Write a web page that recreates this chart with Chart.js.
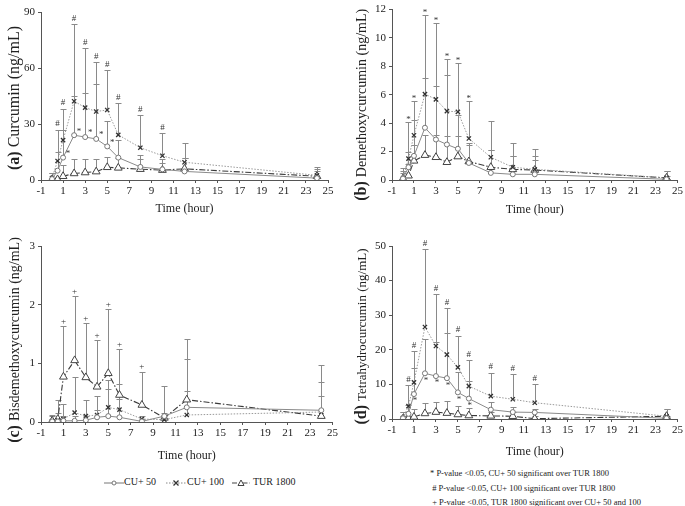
<!DOCTYPE html>
<html>
<head>
<meta charset="utf-8">
<script src="https://cdn.jsdelivr.net/npm/chart.js@4.4.1/dist/chart.umd.min.js"></script>
<style>
  body { margin: 0; background: #fff; width: 685px; height: 506px; position: relative; overflow: hidden; font-family: "Liberation Serif", serif; color: #222; }
  canvas { position: absolute; }
  .legend { position: absolute; top: 476px; left: 104px; font-size: 10px; white-space: nowrap; }
  .legend span { position: absolute; top: 0; }
  .legend svg { position: absolute; top: 1px; }
  .notes { position: absolute; left: 430px; top: 466px; font-size: 8.5px; line-height: 14.5px; white-space: nowrap; }
</style>
</head>
<body>
<canvas id="chartA" width="340" height="220" style="left:0;top:0"></canvas>
<canvas id="chartB" width="345" height="221" style="left:340px;top:0"></canvas>
<canvas id="chartC" width="340" height="231" style="left:0;top:236px"></canvas>
<canvas id="chartD" width="345" height="227" style="left:340px;top:236px"></canvas>

<div class="legend">
  <svg width="20" height="12" style="left:0"><line x1="0" y1="6" x2="20" y2="6" stroke="#777" stroke-width="1"/><circle cx="10" cy="6" r="2" fill="#fff" stroke="#777"/></svg>
  <span style="left:20px">CU+ 50</span>
  <svg width="20" height="12" style="left:62px"><line x1="0" y1="6" x2="20" y2="6" stroke="#888" stroke-width="1" stroke-dasharray="1.5,1.5"/><path d="M7.5 3.5 L12.5 8.5 M12.5 3.5 L7.5 8.5" stroke="#333" stroke-width="1.3"/></svg>
  <span style="left:83px">CU+ 100</span>
  <svg width="18" height="12" style="left:128px"><line x1="0" y1="6" x2="18" y2="6" stroke="#444" stroke-width="1.2" stroke-dasharray="5,2,1.5,2"/><path d="M9 3 L12 8.5 L6 8.5 Z" fill="#fff" stroke="#444"/></svg>
  <span style="left:149px">TUR 1800</span>
</div>

<div class="notes">
  <div>* P-value &lt;0.05, CU+ 50 significant over TUR 1800</div>
  <div>&nbsp;# P-value &lt;0.05, CU+ 100 significant over TUR 1800</div>
  <div>&nbsp;+ P-value &lt;0.05, TUR 1800 significant over CU+ 50 and 100</div>
</div>

<script>
// sampling times (hour)
const times = [0, 0.5, 1, 2, 3, 4, 5, 6, 8, 10, 12, 24];

// (a) Curcumin
const cu50A = [0.5, 5, 12, 24, 23, 22, 18, 12, 7, 5.7, 4.6, 1];
const cu50AHi = [3.5, 15, 27, 45, 46.5, 51.5, 31.5, 21.5, 13.5, 11, 12, 5];
const cu100A = [1, 10.2, 21.4, 42.2, 38.8, 36.7, 37.5, 24.2, 17.3, 13, 9.5, 2.5];
const cu100AHi = [4, 27, 38.3, 83.4, 70.8, 63.3, 59, 41, 34.6, 25.3, 20, 7];
const turA = [0.3, 0.3, 2, 3.5, 4, 4.5, 6.8, 6.5, 5.8, 5.3, 6, 2];
const turAHi = [3.5, 1.5, 8, 11, 11, 11.5, 12.5, 12, 11, 9, 12, 6];

// (b) Demethoxycurcumin
const cu50B = [0.1, 0.9, 1.7, 3.68, 2.85, 2.5, 2.2, 1.2, 0.5, 0.4, 0.4, 0.05];
const cu50BHi = [0.6, 2, 4.2, 7.2, 6.6, 7.4, 4.6, 2.6, 2.1, 1.7, 1.7, 0.3];
const cu100B = [0.1, 1.5, 3.15, 6.05, 5.68, 4.85, 4.8, 2.92, 1.6, 0.9, 0.75, 0.15];
const cu100BHi = [0.5, 4.1, 5.56, 11.6, 11.03, 8.5, 8.25, 5.58, 4.14, 2.6, 2.16, 0.6];
const turB = [0.1, 0.3, 1.35, 1.75, 1.6, 1.25, 1.65, 1.3, 0.9, 0.75, 0.7, 0.15];
const turBHi = [0.85, 1.1, 2.5, 3.2, 3.2, 3.1, 3.1, 2.5, 2.1, 1.7, 1.4, 0.6];

// (c) Bisdemethoxycurcumin
const cu50C = [0.01, 0.01, 0.02, 0.02, 0.03, 0.08, 0.1, 0.08, 0.01, 0.1, 0.25, 0.2];
const cu50CHi = [0.05, 0.05, 0.1, 0.1, 0.1, 0.2, 0.56, 0.4, 0.05, 0.15, 1.07, 0.69];
const cu100C = [0.01, 0.03, 0.05, 0.16, 0.1, 0.12, 0.25, 0.21, 0.05, 0.04, 0.12, 0.17];
const cu100CHi = [0.1, 0.15, 0.3, 0.77, 0.37, 0.45, 0.72, 0.65, 0.1, 0.1, 0.52, 0.44];
const turC = [0.02, 0.05, 0.77, 1.05, 0.76, 0.6, 0.83, 0.46, 0.29, 0.07, 0.38, 0.1];
const turCHi = [0.12, 0.37, 1.63, 2.14, 1.69, 1.39, 1.92, 1.24, 0.86, 0.61, 1.41, 0.97];

// (d) Tetrahydrocurcumin
const cu50D = [0.2, 1.5, 7.2, 13.2, 12.4, 11.8, 7.7, 5.9, 2.7, 2, 1.9, 0.2];
const cu50DHi = [1, 4, 14.7, 23.2, 22.3, 25, 13.6, 11, 5, 3.5, 3, 1];
const cu100D = [0.3, 3.7, 10.6, 26.6, 21.1, 18.6, 14.9, 9.5, 6.6, 5.7, 4.7, 0.8];
const cu100DHi = [2, 9.7, 19.7, 49, 36, 32, 24.1, 17, 13.4, 13.1, 10, 3];
const turD = [0.1, 0.2, 0.6, 1.6, 2.0, 1.7, 1.3, 1.0, 0.9, 0.8, 0.1, 0.8];
const turDHi = [2, 1, 3, 4.5, 5, 5.1, 3.8, 3.2, 2, 2, 1, 3];

// significance marks (times)
const hashA = [0.5, 1, 2, 3, 4, 5, 6, 8, 10];
const starA = [1, 2, 3, 4, 5];
const starB = [0.5, 1, 2, 3, 4, 5, 6];
const plusC = [1, 2, 3, 4, 5, 6, 8];
const hashD = [0.5, 1, 2, 3, 4, 5, 6, 8, 10, 12];
const starD = [1, 2, 3, 4, 5, 6];

// x ticks -1..25, y ticks per panel
const xMin = -1, xMax = 25, xStep = 2;
const yMaxA = 90, yStepA = 30;
const yMaxB = 12, yStepB = 2;
const yMaxC = 3, yStepC = 1;
const yMaxD = 50, yStepD = 10;

const serif = '"Liberation Serif", "Times New Roman", serif';
const toXY = arr => arr.map((v, i) => ({ x: times[i], y: v }));

// upper error bars (drawn under the lines)
const errorBars = {
  id: 'errorBars',
  beforeDatasetsDraw(chart) {
    const { ctx, scales: { x, y } } = chart;
    ctx.save();
    ctx.strokeStyle = '#8a8a8a';
    ctx.lineWidth = 1;
    chart.data.datasets.forEach(ds => {
      if (!ds.upper) return;
      ds.data.forEach((p, j) => {
        const hi = ds.upper[j];
        if (hi == null || hi <= p.y) return;
        const px = Math.round(x.getPixelForValue(p.x)) + 0.5;
        const y0 = y.getPixelForValue(p.y);
        const y1 = Math.round(y.getPixelForValue(hi)) + 0.5;
        ctx.beginPath();
        ctx.moveTo(px, y0);
        ctx.lineTo(px, y1);
        ctx.moveTo(px - 3, y1);
        ctx.lineTo(px + 3, y1);
        ctx.stroke();
      });
    });
    ctx.restore();
  }
};

// significance symbols, placed from the data through the scales
const sigMarks = {
  id: 'sigMarks',
  afterDatasetsDraw(chart, args, opts) {
    const { ctx, scales: { x, y } } = chart;
    ctx.save();
    ctx.fillStyle = '#333';
    ctx.font = '9px ' + serif;
    ctx.textAlign = 'center';
    (opts.marks || []).forEach(m => {
      const ds = chart.data.datasets[m.ds];
      m.at.forEach(t => {
        const j = times.indexOf(t);
        const v = m.above ? ds.upper[j] : ds.data[j].y;
        const px = x.getPixelForValue(t) + (m.dx || 0);
        const py = y.getPixelForValue(v) + (m.dy || 0);
        ctx.textBaseline = m.above ? 'bottom' : 'middle';
        ctx.fillText(m.sym, px, py);
      });
    });
    ctx.restore();
  }
};

// rotated y title: bold panel letter + name
const yTitle = {
  id: 'yTitle',
  afterDraw(chart, args, opts) {
    const { ctx, chartArea } = chart;
    ctx.save();
    const f1 = 'bold ' + opts.letterSize + 'px ' + serif;
    const f2 = opts.size + 'px ' + serif;
    ctx.font = f1;
    const w1 = ctx.measureText(opts.letter + ' ').width;
    ctx.font = f2;
    const w2 = ctx.measureText(opts.text).width;
    const cy = (chartArea.top + chartArea.bottom) / 2 + (opts.dy || 0);
    ctx.translate(opts.x, cy);
    ctx.rotate(-Math.PI / 2);
    ctx.fillStyle = '#222';
    ctx.textBaseline = 'alphabetic';
    ctx.textAlign = 'left';
    const start = -(w1 + w2) / 2;
    ctx.font = f1;
    ctx.fillText(opts.letter + ' ', start, 0);
    ctx.font = f2;
    ctx.fillText(opts.text, start + w1, 0);
    ctx.restore();
  }
};

function makePanel(id, p) {
  return new Chart(document.getElementById(id), {
    type: 'line',
    data: {
      datasets: [{
        label: 'CU+ 50',
        data: toXY(p.cu50),
        upper: p.cu50Hi,
        borderColor: '#8a8a8a',
        borderWidth: 1,
        pointStyle: 'circle',
        pointRadius: 2.5,
        pointBackgroundColor: '#fff',
        pointBorderColor: '#777',
        pointBorderWidth: 1,
        tension: 0
      }, {
        label: 'CU+ 100',
        data: toXY(p.cu100),
        upper: p.cu100Hi,
        borderColor: '#9a9a9a',
        borderWidth: 1,
        borderDash: [1.5, 1.5],
        pointStyle: 'crossRot',
        pointRadius: 3,
        pointBorderColor: '#333',
        pointBorderWidth: 1.3,
        tension: 0
      }, {
        label: 'TUR 1800',
        data: toXY(p.tur),
        upper: p.turHi,
        borderColor: '#3a3a3a',
        borderWidth: 1.1,
        borderDash: [6, 2, 1.5, 2],
        pointStyle: 'triangle',
        pointRadius: 4.5,
        pointBackgroundColor: '#fff',
        pointBorderColor: '#444',
        pointBorderWidth: 1,
        tension: 0
      }]
    },
    options: {
      responsive: false,
      animation: false,
      layout: { padding: p.padding },
      plugins: {
        legend: { display: false },
        tooltip: { enabled: false },
        sigMarks: { marks: p.marks },
        yTitle: p.title
      },
      scales: {
        x: {
          type: 'linear',
          min: xMin,
          max: xMax,
          afterFit: s => { s.height = p.xHeight; },
          afterBuildTicks: s => {
            s.ticks = [];
            for (let v = xMin; v <= xMax; v += xStep) s.ticks.push({ value: v });
          },
          grid: { drawOnChartArea: false, drawTicks: true, tickLength: 3, color: '#555' },
          border: { color: '#555', width: 1 },
          ticks: { color: '#222', padding: 2, maxRotation: 0, autoSkip: false, font: { family: serif, size: 11 } },
          title: { display: true, text: 'Time (hour)', color: '#222', padding: { top: 0, bottom: 4 }, font: { family: serif, size: 12 } }
        },
        y: {
          min: 0,
          max: p.yMax,
          afterFit: s => { s.width = p.yWidth; },
          grid: { drawOnChartArea: false, drawTicks: true, tickLength: 3, color: '#555' },
          border: { color: '#555', width: 1 },
          ticks: { stepSize: p.yStep, color: '#222', padding: 3, font: { family: serif, size: 11 } }
        }
      }
    },
    plugins: [errorBars, sigMarks, yTitle]
  });
}

makePanel('chartA', {
  cu50: cu50A, cu50Hi: cu50AHi, cu100: cu100A, cu100Hi: cu100AHi, tur: turA, turHi: turAHi,
  yMax: yMaxA, yStep: yStepA,
  padding: { left: 0, right: 12, top: 12, bottom: 0 }, yWidth: 41, xHeight: 40,
  title: { letter: '(a)', letterSize: 16, text: 'Curcumin (ng/mL)', size: 16, x: 19, dy: 2 },
  marks: [
    { ds: 1, at: hashA, sym: '#', above: true, dy: -1 },
    { ds: 0, at: starA, sym: '*', dx: 5, dy: -4 }
  ]
});

makePanel('chartB', {
  cu50: cu50B, cu50Hi: cu50BHi, cu100: cu100B, cu100Hi: cu100BHi, tur: turB, turHi: turBHi,
  yMax: yMaxB, yStep: yStepB,
  padding: { left: 0, right: 6, top: 6, bottom: 0 }, yWidth: 52, xHeight: 41,
  title: { letter: '(b)', letterSize: 16, text: 'Demethoxycurcumin (ng/mL)', size: 14, x: 26, dy: 10 },
  marks: [
    { ds: 1, at: starB, sym: '*', above: true, dy: 2 }
  ]
});

makePanel('chartC', {
  cu50: cu50C, cu50Hi: cu50CHi, cu100: cu100C, cu100Hi: cu100CHi, tur: turC, turHi: turCHi,
  yMax: yMaxC, yStep: yStepC,
  padding: { left: 0, right: 6, top: 10, bottom: 0 }, yWidth: 41, xHeight: 45,
  title: { letter: '(c)', letterSize: 16, text: 'Bisdemethoxycurcumin (ng/mL)', size: 14, x: 19, dy: 6 },
  marks: [
    { ds: 2, at: plusC, sym: '+', above: true, dy: 0 }
  ]
});

makePanel('chartD', {
  cu50: cu50D, cu50Hi: cu50DHi, cu100: cu100D, cu100Hi: cu100DHi, tur: turD, turHi: turDHi,
  yMax: yMaxD, yStep: yStepD,
  padding: { left: 0, right: 6, top: 10, bottom: 0 }, yWidth: 52, xHeight: 44,
  title: { letter: '(d)', letterSize: 16, text: 'Tetrahydrocurcumin (ng/mL)', size: 13, x: 26, dy: 4 },
  marks: [
    { ds: 1, at: hashD, sym: '#', above: true, dy: -1 },
    { ds: 0, at: starD, sym: '*', dx: 1, dy: 7 }
  ]
});
</script>
</body>
</html>
